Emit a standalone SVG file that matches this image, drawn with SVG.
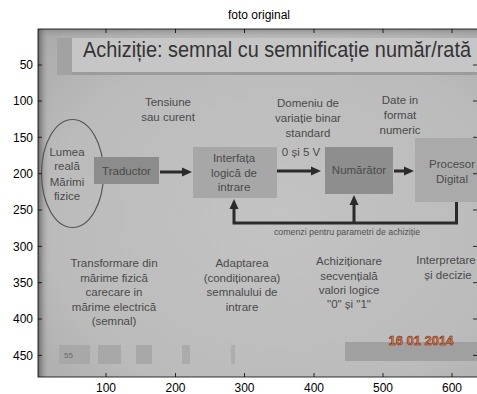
<svg xmlns="http://www.w3.org/2000/svg" width="477" height="394" viewBox="0 0 477 394">
<defs>
<radialGradient id="bg" cx="0.55" cy="0.55" r="0.75">
<stop offset="0" stop-color="#c3c3c3"/>
<stop offset="0.7" stop-color="#bbbbbb"/>
<stop offset="1" stop-color="#ababab"/>
</radialGradient>
<linearGradient id="leftband" x1="0" y1="0" x2="1" y2="0">
<stop offset="0" stop-color="#555" stop-opacity="0.8"/>
<stop offset="0.5" stop-color="#888" stop-opacity="0.4"/>
<stop offset="1" stop-color="#bbb" stop-opacity="0"/>
</linearGradient>
<linearGradient id="topband" x1="0" y1="0" x2="0" y2="1">
<stop offset="0" stop-color="#777" stop-opacity="0.6"/>
<stop offset="1" stop-color="#aaa" stop-opacity="0"/>
</linearGradient>
<marker id="ah" viewBox="0 0 10 10" markerUnits="userSpaceOnUse" markerWidth="10" markerHeight="10" refX="3" refY="5" orient="auto">
<path d="M0,0.5 L10,5 L0,9.5 Z" fill="#2b2b2b"/>
</marker>
<clipPath id="ax"><rect x="38" y="29" width="440" height="348"/></clipPath>
</defs>
<style>
.ax{font-family:"Liberation Sans",Arial,sans-serif;font-size:12px;fill:#000}
.sl{font-family:"Liberation Sans",Arial,sans-serif;font-size:11.5px;fill:#4a4a4a;text-anchor:middle}
.bx{stroke:none}
.ar{stroke:#2b2b2b;stroke-width:3;fill:none}
.tk{stroke:#000;stroke-width:0.8}
</style>
<rect width="477" height="394" fill="#fff"/>
<text class="ax" x="259" y="19" text-anchor="middle" font-size="12.5">foto original</text>
<g clip-path="url(#ax)">
<rect x="38" y="29" width="440" height="348" fill="url(#bg)"/>
<rect x="38" y="29" width="440" height="10" fill="url(#topband)"/>
<rect x="38" y="29" width="12" height="348" fill="url(#leftband)"/>
<g id="banner">
<rect x="72" y="38" width="406" height="37" fill="#c6c6c6"/>
<rect x="72" y="72" width="406" height="3" fill="#9c9c9c"/>
<rect x="57" y="38" width="15" height="37" fill="#a2a2a2"/>
<text x="83" y="57" font-family="'Liberation Sans',Arial,sans-serif" font-size="22.5" fill="#333" textLength="388" lengthAdjust="spacingAndGlyphs">Achiziție: semnal cu semnificație număr/rată</text>
</g>
<g id="connectors">
<line class="ar" x1="160" y1="172" x2="185" y2="172" marker-end="url(#ah)"/>
<line class="ar" x1="277" y1="171" x2="314" y2="171" marker-end="url(#ah)"/>
<line class="ar" x1="394" y1="171" x2="407" y2="171" marker-end="url(#ah)"/>
<path class="ar" d="M456.5,202 V223 H234 V206" marker-end="url(#ah)"/>
<line class="ar" x1="354" y1="223" x2="354" y2="202" marker-end="url(#ah)"/>
<text x="347" y="234.5" font-family="'Liberation Sans',Arial,sans-serif" font-size="8.8" fill="#505050" text-anchor="middle">comenzi pentru parametri de achiziție</text>
</g>
<g id="lumea">
<ellipse cx="72.5" cy="173.5" rx="31" ry="54" fill="none" stroke="#555" stroke-width="1.2"/>
<text class="sl" x="67" y="156">Lumea</text>
<text class="sl" x="67" y="170">reală</text>
<text class="sl" x="67" y="185.5">Mărimi</text>
<text class="sl" x="67" y="200">fizice</text>
</g>
<g id="traductor">
<rect class="bx" x="94" y="157" width="65" height="27" fill="#8c8c8c"/>
<text class="sl" x="126.5" y="175" font-size="12.5" fill="#484848">Traductor</text>
</g>
<g id="interfata">
<rect class="bx" x="193" y="147" width="84" height="51" fill="#a7a7a7"/>
<text class="sl" x="234" y="162">Interfața</text>
<text class="sl" x="234" y="177">logică de</text>
<text class="sl" x="234" y="191">intrare</text>
</g>
<g id="numarator">
<rect class="bx" x="325" y="147" width="68" height="47" fill="#8e8e8e"/>
<text class="sl" x="359" y="174" fill="#484848">Numărător</text>
</g>
<g id="procesor">
<rect class="bx" x="415" y="138" width="63" height="64" fill="#aaaaaa"/>
<text class="sl" x="452" y="168">Procesor</text>
<text class="sl" x="452" y="183">Digital</text>
</g>
<g id="top-labels">
<text class="sl" x="168" y="106">Tensiune</text>
<text class="sl" x="168" y="121">sau curent</text>
<text class="sl" x="308" y="107">Domeniu de</text>
<text class="sl" x="308" y="122">variație binar</text>
<text class="sl" x="308" y="137">standard</text>
<text class="sl" x="301" y="156" font-size="10">0 și 5 V</text>
<text class="sl" x="400" y="104">Date in</text>
<text class="sl" x="400" y="119">format</text>
<text class="sl" x="400" y="134">numeric</text>
</g>
<g id="bottom-labels">
<text class="sl" x="114" y="267">Transformare din</text>
<text class="sl" x="114" y="281.5">mărime fizică</text>
<text class="sl" x="114" y="296">carecare in</text>
<text class="sl" x="114" y="310.5">mărime electrică</text>
<text class="sl" x="114" y="325">(semnal)</text>
<text class="sl" x="242" y="267">Adaptarea</text>
<text class="sl" x="242" y="281.5">(condiționarea)</text>
<text class="sl" x="242" y="296">semnalului de</text>
<text class="sl" x="242" y="310.5">intrare</text>
<text class="sl" x="349" y="265">Achiziționare</text>
<text class="sl" x="349" y="279.5">secvențială</text>
<text class="sl" x="349" y="294">valori logice</text>
<text class="sl" x="349" y="308">"0" și "1"</text>
<text class="sl" x="446" y="264" font-size="11">Interpretare</text>
<text class="sl" x="448" y="279" font-size="11">și decizie</text>
</g>
<g id="footer">
<rect x="59" y="345" width="31" height="19" fill="#a8a8a8"/>
<text x="64" y="358" font-family="'Liberation Sans',Arial,sans-serif" font-size="8" fill="#666">55</text>
<rect x="98" y="345" width="23" height="19" fill="#a8a8a8"/>
<rect x="136" y="345" width="16" height="19" fill="#a8a8a8"/>
<rect x="182" y="345" width="8" height="19" fill="#ababab"/>
<rect x="231" y="345" width="4" height="19" fill="#adadad"/>
<rect x="345" y="342" width="133" height="19" fill="#a0a0a0"/>
<text x="421" y="344.5" font-family="'Liberation Sans',Arial,sans-serif" font-size="13" font-weight="bold" fill="#e8743c" stroke="#5a2a1a" stroke-width="0.5" text-anchor="middle">16 01 2014</text>
</g>
</g>
<g id="axes" fill="none">
<rect x="38" y="29" width="440" height="348" stroke="#000" stroke-width="0.8"/>
<path class="tk" d="M38,65 h4 M38,101 h4 M38,137.3 h4 M38,173.7 h4 M38,210 h4 M38,246.4 h4 M38,282.7 h4 M38,319 h4 M38,355.4 h4 M473,65 h4 M473,101 h4 M473,137.3 h4 M473,173.7 h4 M473,210 h4 M473,246.4 h4 M473,282.7 h4 M473,319 h4 M473,355.4 h4 M106,377 v-4 M175.5,377 v-4 M244.5,377 v-4 M314,377 v-4 M383,377 v-4 M452,377 v-4 M106,29 v4 M175.5,29 v4 M244.5,29 v4 M314,29 v4 M383,29 v4 M452,29 v4"/>
</g>
<g id="ticklabels" class="ax" text-anchor="end">
<text x="33" y="69">50</text>
<text x="33" y="105">100</text>
<text x="33" y="141.5">150</text>
<text x="33" y="178">200</text>
<text x="33" y="214">250</text>
<text x="33" y="250.5">300</text>
<text x="33" y="287">350</text>
<text x="33" y="323">400</text>
<text x="33" y="359.5">450</text>
</g>
<g class="ax" text-anchor="middle">
<text x="106" y="392">100</text>
<text x="175.5" y="392">200</text>
<text x="244.5" y="392">300</text>
<text x="314" y="392">400</text>
<text x="383" y="392">500</text>
<text x="452" y="392">600</text>
</g>
</svg>
